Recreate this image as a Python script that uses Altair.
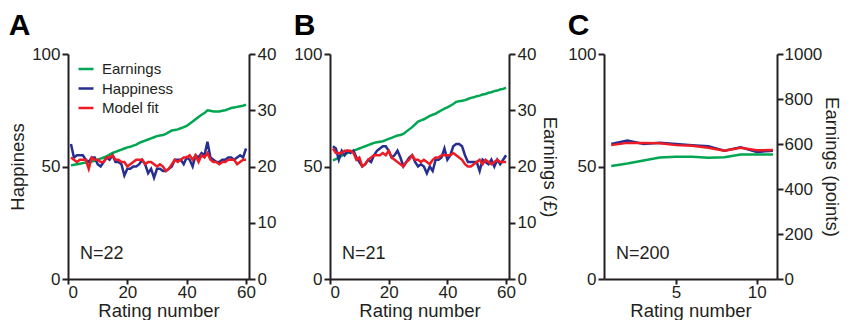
import altair as alt
import pandas as pd

# ---------------- data ----------------
ratings_ab = list(range(1, 61))
ratings_c = list(range(1, 12))

# Panel A (N=22)
a_earnings = [20.2, 20.3, 20.4, 20.5, 20.6, 20.7, 20.8, 20.9, 21.0, 21.2,
              21.4, 21.6, 21.8, 22.1, 22.4, 22.6, 22.8, 23.0, 23.2, 23.4,
              23.5, 23.7, 23.9, 24.2, 24.4, 24.6, 24.8, 25.0, 25.2, 25.4,
              25.5, 25.6, 25.8, 26.1, 26.4, 26.5, 26.6, 26.8, 27.0, 27.2,
              27.6, 28.0, 28.4, 28.8, 29.2, 29.5, 30.0, 29.9, 29.8, 29.8,
              29.8, 29.9, 30.0, 30.2, 30.4, 30.5, 30.6, 30.7, 30.8, 31.0]
a_happiness = [60, 54, 55, 55, 55, 53, 52, 54, 54, 51,
               50, 52, 54, 53, 55, 52, 52, 51, 46, 49,
               49, 50, 50, 51, 53, 51, 47, 49, 45, 49,
               49, 48, 48, 49, 50, 53, 53, 53, 51, 54,
               53, 50, 55, 54, 56, 55, 61, 54, 53, 52,
               52, 53, 53, 54, 54, 53, 54, 55, 54, 58]
a_fit = [54, 53, 52, 53, 53, 53, 49, 54, 53, 53,
         52, 52, 54, 54, 55, 53, 53, 52, 52, 50,
         51, 52, 53, 53, 53, 51, 52, 52, 51, 50,
         51, 50, 48, 49, 51, 53, 52, 53, 54, 54,
         55, 53, 55, 52, 55, 54, 56, 53, 52, 52,
         51, 52, 52, 53, 53, 53, 51, 52, 53, 53]

# Panel B (N=21)
b_earnings = [21.1, 21.3, 21.6, 21.9, 22.2, 22.4, 22.6, 22.8, 23.0, 23.2,
              23.4, 23.6, 23.8, 24.0, 24.2, 24.3, 24.4, 24.5, 24.7, 24.9,
              25.1, 25.3, 25.5, 25.6, 25.8, 26.2, 26.6, 27.0, 27.5, 28.0,
              28.2, 28.4, 28.7, 29.0, 29.2, 29.4, 29.7, 30.0, 30.3, 30.5,
              30.8, 31.1, 31.5, 31.6, 31.7, 31.8, 32.0, 32.2, 32.3, 32.5,
              32.6, 32.8, 32.9, 33.1, 33.2, 33.4, 33.5, 33.7, 33.8, 34.0]
b_happiness = [59, 58, 53, 57, 55, 57, 56, 57, 54, 52,
               50, 51, 53, 52, 55, 57, 58, 59, 59, 57,
               54, 55, 57, 54, 50, 52, 54, 55, 52, 50,
               51, 50, 47, 50, 48, 53, 53, 54, 58, 53,
               55, 59, 60, 60, 59, 55, 52, 52, 52, 52,
               48, 53, 52, 51, 53, 50, 53, 51, 53, 55]
b_fit = [58, 56, 56, 56, 57, 57, 57, 56, 53, 54,
         50, 51, 53, 54, 55, 55, 55, 56, 55, 57,
         54, 53, 52, 51, 50, 52, 53, 55, 53, 53,
         52, 53, 52, 51, 53, 54, 54, 55, 55, 55,
         55, 56, 55, 54, 53, 51, 50, 50, 51, 52,
         53, 51, 53, 52, 51, 52, 53, 52, 52, 52]

# Panel C (N=200)
c_earnings = [502, 513, 527, 540, 543, 543, 539, 541, 553, 553, 553]
c_happiness = [60, 61.5, 60, 60.5, 60, 59.5, 59, 57, 58.5, 56.5, 57]
c_fit = [59.5, 60.5, 60.5, 60.3, 59.5, 59.2, 58.3, 57, 58.3, 57.2, 57.3]

series_names = ["Earnings", "Happiness", "Model fit"]
series_colors = ["#00a651", "#262f8f", "#ed1c24"]

FONT = "Liberation Sans"
INK = "#231f20"
H = 225


def axis_style(**kw):
    base = dict(domainColor=INK, domainWidth=2, tickColor=INK, tickWidth=2,
                tickSize=6, labelFontSize=17, labelColor=INK, labelFont=FONT,
                titleFontSize=18.5, titleFontWeight="normal", titleColor=INK,
                titleFont=FONT, grid=False, labelPadding=2, titlePadding=4)
    base.update(kw)
    return alt.Axis(**base)


def panel(letter, n_text, ratings, hap, fit, earn, xdom, xvals,
          edom, evals, etitle, htitle, show_legend, width, eformat=None,
          etitle_pad=4, elabel_pad=2):
    df = pd.DataFrame({"rating": ratings, "happiness": hap, "fit": fit,
                       "earnings": earn})
    color_scale = alt.Scale(domain=series_names, range=series_colors)
    if show_legend:
        legend = alt.Legend(title=None, orient="none", legendX=9, legendY=6,
                            symbolType="stroke", symbolStrokeWidth=2.5,
                            symbolSize=225, labelFontSize=15, labelFont=FONT,
                            labelColor=INK, rowPadding=2.5, labelOffset=7)
    else:
        legend = None
    xenc = alt.X("rating:Q", scale=alt.Scale(domain=xdom, nice=False, zero=False),
                 axis=axis_style(values=xvals, title="Rating number", tickSize=5,
                                 labelPadding=0, titlePadding=1.5))
    base = alt.Chart(df)
    e_axis = dict(values=evals, orient="right", titlePadding=etitle_pad,
                  labelPadding=elabel_pad)
    e_axis["title"] = etitle if etitle else None
    if eformat:
        e_axis["format"] = eformat
    color_enc = alt.Color("series:N", scale=color_scale, legend=legend)
    earn_layer = base.transform_calculate(series="'Earnings'").mark_line(
        strokeWidth=2.5).encode(
        x=xenc,
        y=alt.Y("earnings:Q", scale=alt.Scale(domain=edom, nice=False),
                axis=axis_style(**e_axis)),
        color=color_enc,
    )
    h_axis = dict(values=[0, 50, 100], orient="left")
    h_axis["title"] = htitle if htitle else None
    hap_layer = base.transform_calculate(series="'Happiness'").mark_line(
        strokeWidth=2.5).encode(
        x=xenc,
        y=alt.Y("happiness:Q", scale=alt.Scale(domain=[0, 100], nice=False),
                axis=axis_style(**h_axis)),
        color=color_enc,
    )
    fit_layer = base.transform_calculate(series="'Model fit'").mark_line(
        strokeWidth=2.5).encode(
        x=xenc,
        y=alt.Y("fit:Q", scale=alt.Scale(domain=[0, 100], nice=False), axis=None),
        color=color_enc,
    )
    ntext = alt.Chart(pd.DataFrame({"t": [n_text]})).mark_text(
        align="left", baseline="middle", fontSize=18, font=FONT, color=INK
    ).encode(x=alt.value(12), y=alt.value(H - 25), text="t:N")
    return alt.layer(earn_layer, hap_layer, fit_layer, ntext).resolve_scale(
        y="independent"
    ).properties(
        width=width, height=H,
        title=alt.TitleParams(letter, anchor="start", frame="bounds",
                              fontSize=30, fontWeight="bold", font=FONT,
                              color="black", offset=4),
    )


pa = panel("A", "N=22", ratings_ab, a_happiness, a_fit, a_earnings,
           [0, 61], [0, 20, 40, 60], [0, 40], [0, 10, 20, 30, 40],
           None, "Happiness", True, 181)
pb = panel("B", "N=21", ratings_ab, b_happiness, b_fit, b_earnings,
           [0, 61], [0, 20, 40, 60], [0, 40], [0, 10, 20, 30, 40],
           "Earnings (£)", None, False, 179)
pc = panel("C", "N=200", ratings_c, c_happiness, c_fit, c_earnings,
           [0.55, 11.25], [5, 10], [0, 1000], [0, 200, 400, 600, 800, 1000],
           "Earnings (points)", None, False, 173, eformat="d", etitle_pad=0,
           elabel_pad=1)

left_pair = alt.hconcat(pa, pb, spacing=17).resolve_legend(color="independent")
chart = alt.hconcat(left_pair, pc, spacing=8).resolve_legend(
    color="independent"
).configure_view(stroke=None).properties(
    padding={"left": 0, "top": 3, "right": 0, "bottom": 0}
)

chart.save("out.html", embed_options={"renderer": "svg", "actions": False})
